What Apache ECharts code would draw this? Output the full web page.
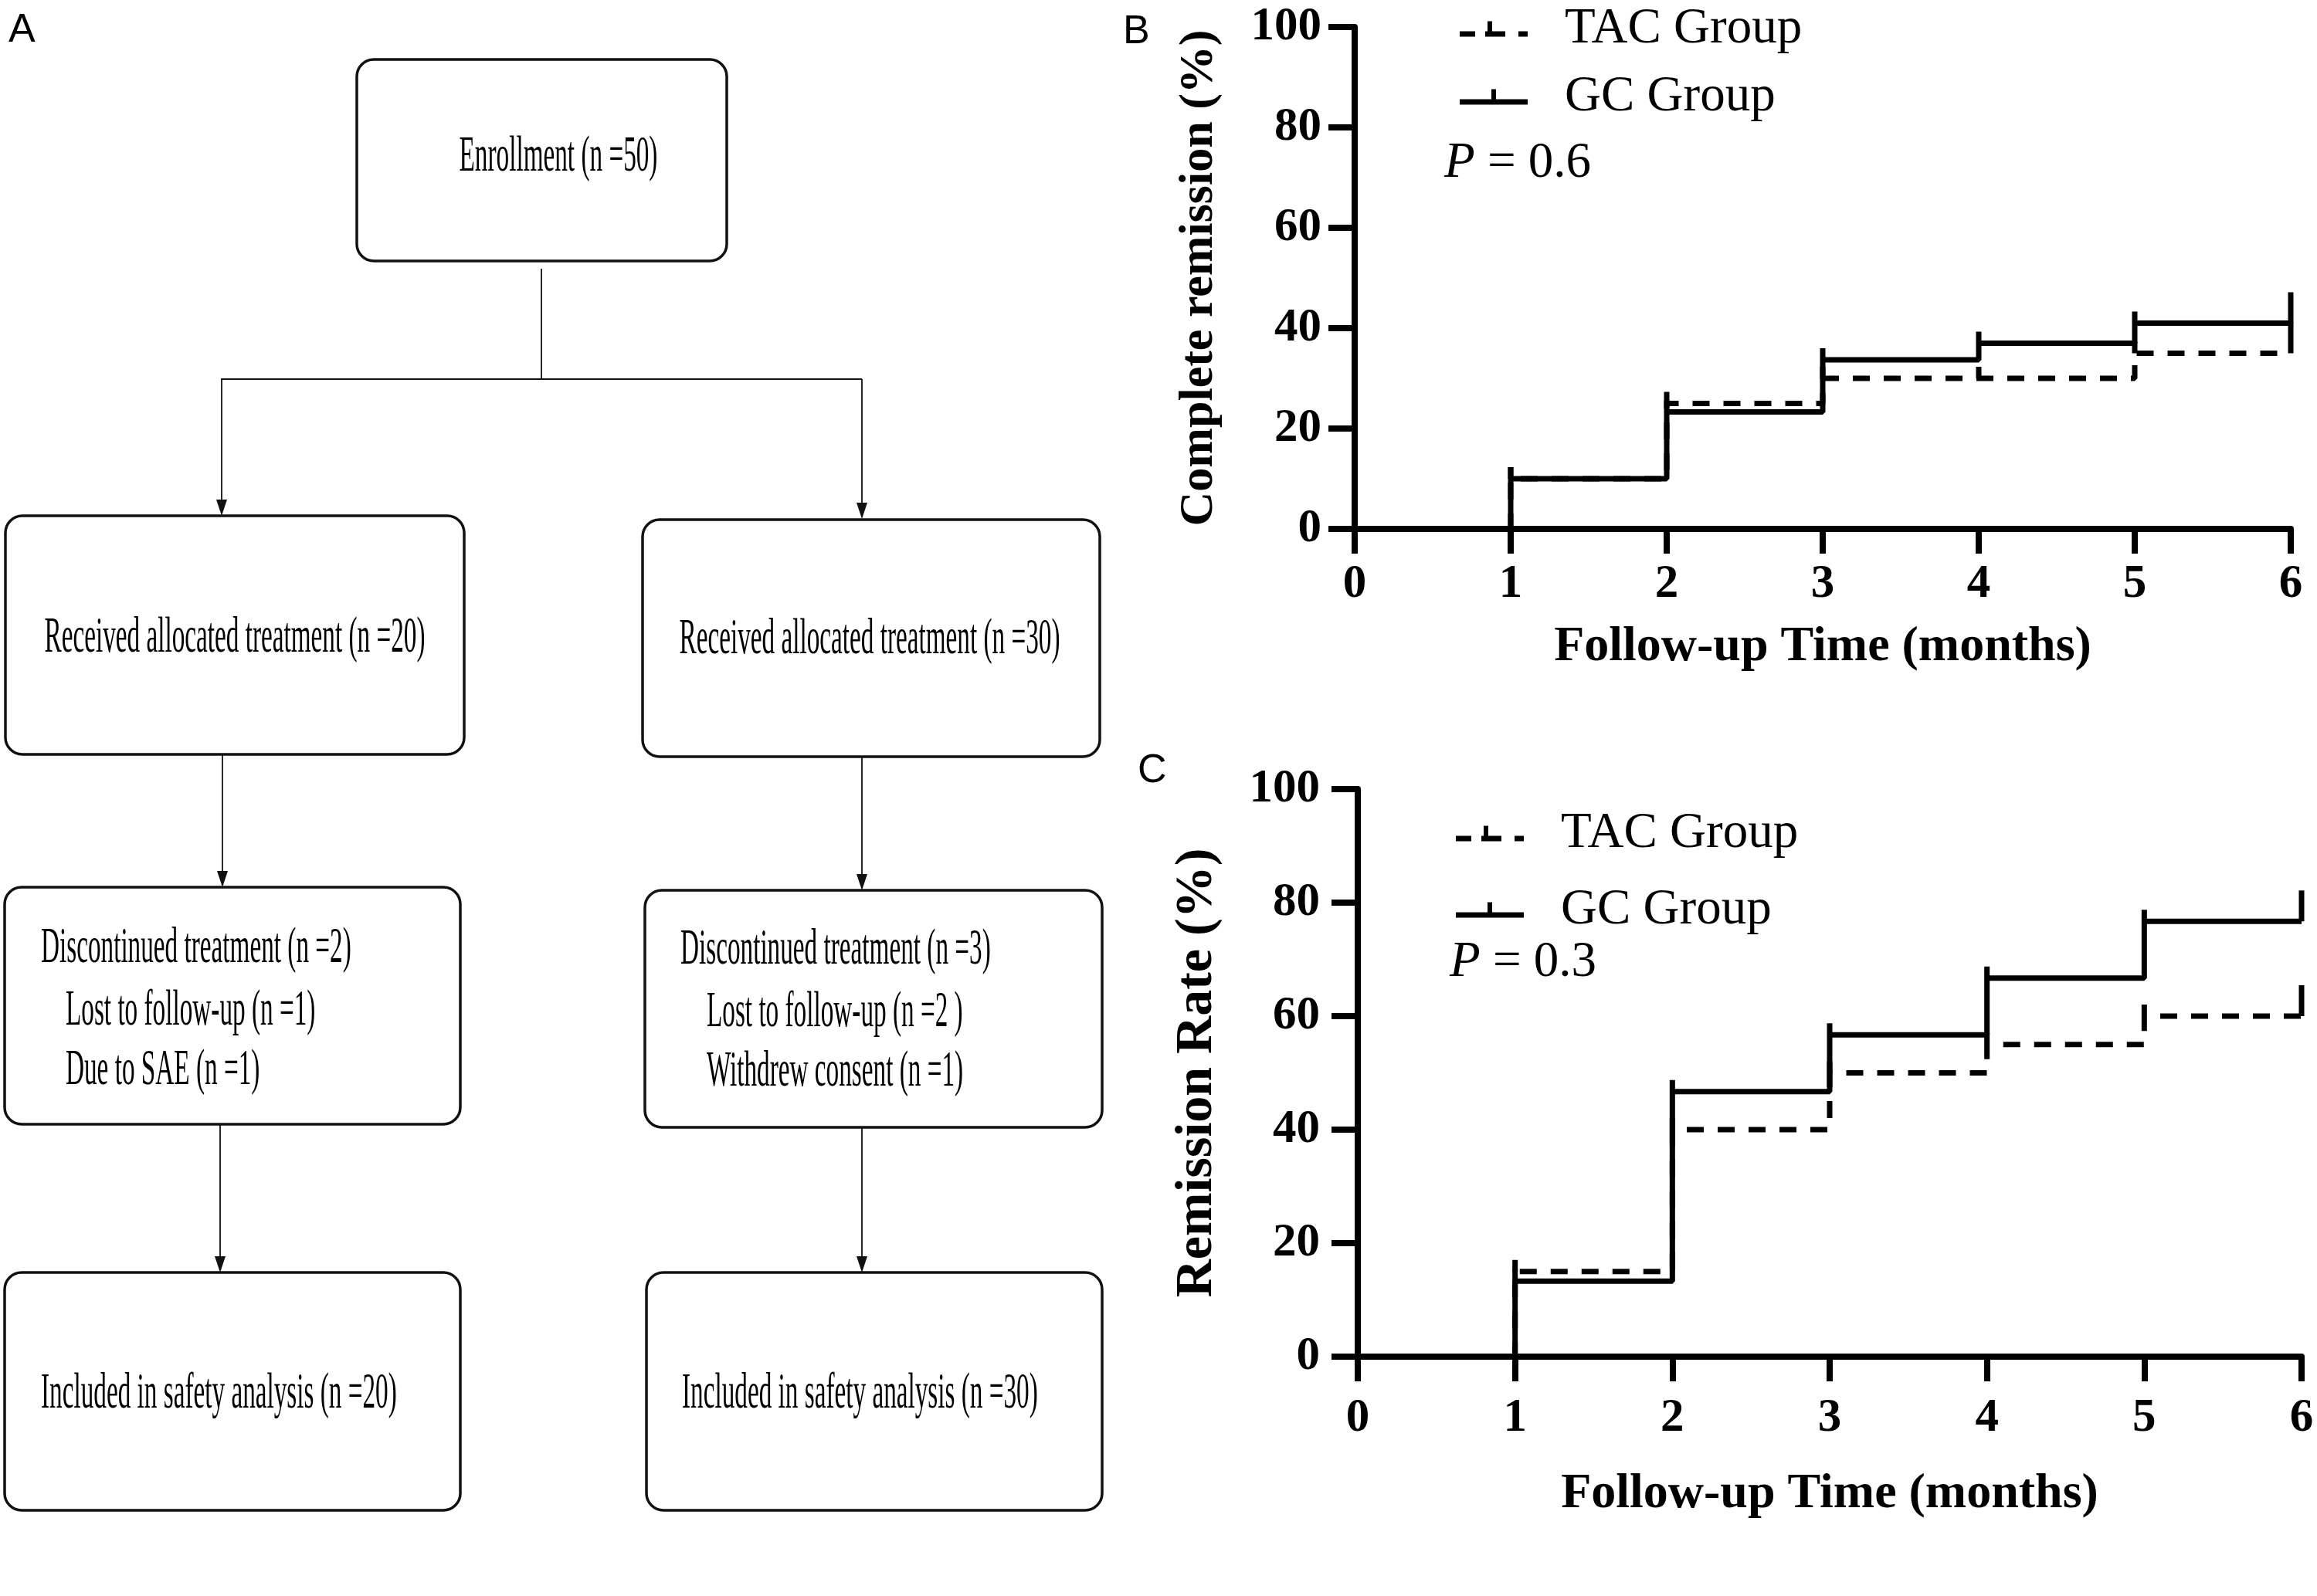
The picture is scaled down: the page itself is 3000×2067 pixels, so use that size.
<!DOCTYPE html>
<html>
<head>
<meta charset="utf-8">
<script src="https://cdn.jsdelivr.net/npm/echarts@6/dist/echarts.min.js"></script>
<style>
  html, body { margin: 0; padding: 0; background: #fff; }
  #main { width: 3000px; height: 2067px; }
</style>
</head>
<body>
<div id="main"></div>
<script>
// follow-up time points (months)
var months = [0, 1, 2, 3, 4, 5, 6];
var yTicks = [0, 20, 40, 60, 80, 100];
var groups = ['TAC Group', 'GC Group'];

// panel B: complete remission (%), level held from each month to the next
var crTac = [0, 10, 25, 30, 30, 35];
var crGc = [0, 10, 23.3, 33.7, 37, 41];
// panel C: remission rate (%)
var rrTac = [0, 15, 40, 50, 55, 60];
var rrGc = [0, 13.3, 46.7, 56.7, 66.7, 76.7];
var pValues = ['0.6', '0.3'];

// flowchart text (panel A)
var enrollText = 'Enrollment (n =50)';
var allocTexts = ['Received allocated treatment (n =20)', 'Received allocated treatment (n =30)'];
var discLeft = ['Discontinued treatment (n =2)', 'Lost to follow-up (n =1)', 'Due to SAE (n =1)'];
var discRight = ['Discontinued treatment (n =3)', 'Lost to follow-up (n =2 )', 'Withdrew consent (n =1)'];
var safetyTexts = ['Included in safety analysis (n =20)', 'Included in safety analysis (n =30)'];

var SERIF = '"Liberation Serif", "Times New Roman", serif';
var SANS = '"Liberation Sans", Arial, sans-serif';

// condensed look of the flowchart font
var flowFont = 65;
var ctx = document.createElement('canvas').getContext('2d');
ctx.font = flowFont + 'px ' + SERIF;
var squeeze = 493 / ctx.measureText(allocTexts[0]).width;

function stepData(levels, tickH, endH) {
  return months.map(function (t, i) {
    var v = levels[Math.min(i, levels.length - 1)];
    var h = i === 0 ? 0 : (i === months.length - 1 ? endH : tickH);
    return { value: [t, v], symbolSize: [7, h], symbolOffset: [0, -h / 2] };
  });
}

function kmSeries(name, levels, idx, dashed) {
  return {
    name: name,
    type: 'line',
    step: 'end',
    xAxisIndex: idx,
    yAxisIndex: idx,
    symbol: 'rect',
    showAllSymbol: true,
    data: stepData(levels, 15, 40),
    lineStyle: { color: '#000', width: 7, type: dashed ? [22, 18] : 'solid' },
    itemStyle: { color: '#000' },
    z: dashed ? 3 : 4,
    animation: false
  };
}

function xAxis(idx, margin, gap) {
  return {
    type: 'value', gridIndex: idx, min: 0, max: 6, interval: 1,
    name: 'Follow-up Time (months)', nameLocation: 'middle', nameGap: gap,
    nameTextStyle: { fontFamily: SERIF, fontWeight: 'bold', fontSize: 64, color: '#000' },
    axisLine: { lineStyle: { color: '#000', width: 8 } },
    axisTick: { length: 32, lineStyle: { color: '#000', width: 8 } },
    axisLabel: { margin: margin, fontFamily: SERIF, fontWeight: 'bold', fontSize: 61, color: '#000' },
    splitLine: { show: false }
  };
}

function yAxis(idx, name, margin, gap, size) {
  return {
    type: 'value', gridIndex: idx, min: yTicks[0], max: yTicks[yTicks.length - 1], interval: 20,
    name: name, nameLocation: 'middle', nameGap: gap,
    nameTextStyle: { fontFamily: SERIF, fontWeight: 'bold', fontSize: size, color: '#000' },
    axisLine: { show: true, lineStyle: { color: '#000', width: 8 } },
    axisTick: { show: true, length: 34, lineStyle: { color: '#000', width: 8 } },
    axisLabel: { margin: margin, fontFamily: SERIF, fontWeight: 'bold', fontSize: 61, color: '#000' },
    splitLine: { show: false }
  };
}

var gcIcon = 'path://M0,13h88v7H0z M41,0h6v13h-6z';
var tacIcon = 'path://M0,13h20v7H0z M33,13h26v7H33z M36,0h6v13h-6z M76,13h12v7H76z';

function legend(left, top, gap) {
  return {
    left: left, top: top, orient: 'vertical', itemGap: gap,
    itemWidth: 88, itemHeight: 20, selectedMode: false,
    symbolKeepAspect: false,
    itemStyle: { color: '#000', borderWidth: 0 },
    lineStyle: { width: 0 },
    data: [{ name: groups[0], icon: tacIcon }, { name: groups[1], icon: gcIcon }],
    textStyle: { fontFamily: SERIF, fontSize: 65, color: '#000', lineHeight: 65, padding: [0, 0, 0, 43] }
  };
}

// ---------- flowchart (panel A) ----------
var LINE = '#111';
function box(x, y, w, h) {
  return { type: 'rect', shape: { x: x, y: y, width: w, height: h, r: 22 },
    style: { fill: '#fff', stroke: LINE, lineWidth: 3.5 } };
}
function seg(x1, y1, x2, y2) {
  return { type: 'line', shape: { x1: x1, y1: y1, x2: x2, y2: y2 },
    style: { stroke: LINE, lineWidth: 1.8 } };
}
function arrow(x, y1, y2) {
  return [seg(x, y1, x, y2 - 18),
    { type: 'polygon', shape: { points: [[x - 7, y2 - 21], [x + 7, y2 - 21], [x, y2]] },
      style: { fill: LINE } }];
}
function ftext(t, x, y, align) {
  return { type: 'text', x: x, y: y, scaleX: squeeze, z: 10,
    style: { text: t, fontFamily: SERIF, fontSize: flowFont, fill: '#000',
      textAlign: align || 'left', textVerticalAlign: 'middle' } };
}

var graphics = [];
graphics.push(box(462, 77, 479, 261));
graphics.push(ftext(enrollText, 723, 204, 'center'));
graphics.push(seg(701, 348, 701, 491));
graphics.push(seg(286, 491, 1116, 491));
graphics = graphics.concat(arrow(287, 491, 668));
graphics = graphics.concat(arrow(1116, 491, 672));

graphics.push(box(7, 668, 594, 309));
graphics.push(ftext(allocTexts[0], 304, 827, 'center'));
graphics.push(box(832, 673, 592, 307));
graphics.push(ftext(allocTexts[1], 1126, 829, 'center'));

graphics = graphics.concat(arrow(288, 977, 1149));
graphics = graphics.concat(arrow(1116, 980, 1153));

graphics.push(box(6, 1149, 590, 307));
graphics.push(ftext(discLeft[0], 53, 1229));
graphics.push(ftext(discLeft[1], 85, 1310));
graphics.push(ftext(discLeft[2], 85, 1387));
graphics.push(box(835, 1153, 592, 307));
graphics.push(ftext(discRight[0], 881, 1231));
graphics.push(ftext(discRight[1], 915, 1312));
graphics.push(ftext(discRight[2], 915, 1389));

graphics = graphics.concat(arrow(285, 1456, 1648));
graphics = graphics.concat(arrow(1116, 1460, 1648));

graphics.push(box(6, 1648, 590, 308));
graphics.push(ftext(safetyTexts[0], 53, 1806));
graphics.push(box(837, 1648, 590, 308));
graphics.push(ftext(safetyTexts[1], 883, 1806));

// panel letters
[['A', 11, 40], ['B', 1454, 42], ['C', 1473, 999]].forEach(function (p) {
  graphics.push({ type: 'text', x: p[1], y: p[2], z: 10,
    style: { text: p[0], fontFamily: SANS, fontSize: 52, fill: '#000', textVerticalAlign: 'middle' } });
});

// p-values
function ptext(val, x, y) {
  return { type: 'text', x: x, y: y, z: 10,
    style: { text: '{i|P} = ' + val, fontFamily: SERIF, fontSize: 65, fill: '#000', textVerticalAlign: 'middle',
      rich: { i: { fontFamily: SERIF, fontSize: 65, fontStyle: 'italic', fill: '#000' } } } };
}
graphics.push(ptext(pValues[0], 1870, 212));
graphics.push(ptext(pValues[1], 1877, 1247));

var chart = echarts.init(document.getElementById('main'), null, { renderer: 'canvas' });
chart.setOption({
  backgroundColor: '#fff',
  animation: false,
  grid: [
    { left: 1754, top: 35, width: 1212, height: 650 },
    { left: 1758, top: 1022, width: 1222, height: 735 }
  ],
  xAxis: [xAxis(0, 42, 121), xAxis(1, 50, 146)],
  yAxis: [yAxis(0, 'Complete remission (%)', 43, 170, 62), yAxis(1, 'Remission Rate (%)', 49, 174, 68)],
  legend: [legend(1885, 0, 23), legend(1880, 1042, 34)],
  series: [
    kmSeries(groups[0], crTac, 0, true),
    kmSeries(groups[1], crGc, 0, false),
    kmSeries(groups[0], rrTac, 1, true),
    kmSeries(groups[1], rrGc, 1, false)
  ],
  graphic: graphics
});
</script>
</body>
</html>
